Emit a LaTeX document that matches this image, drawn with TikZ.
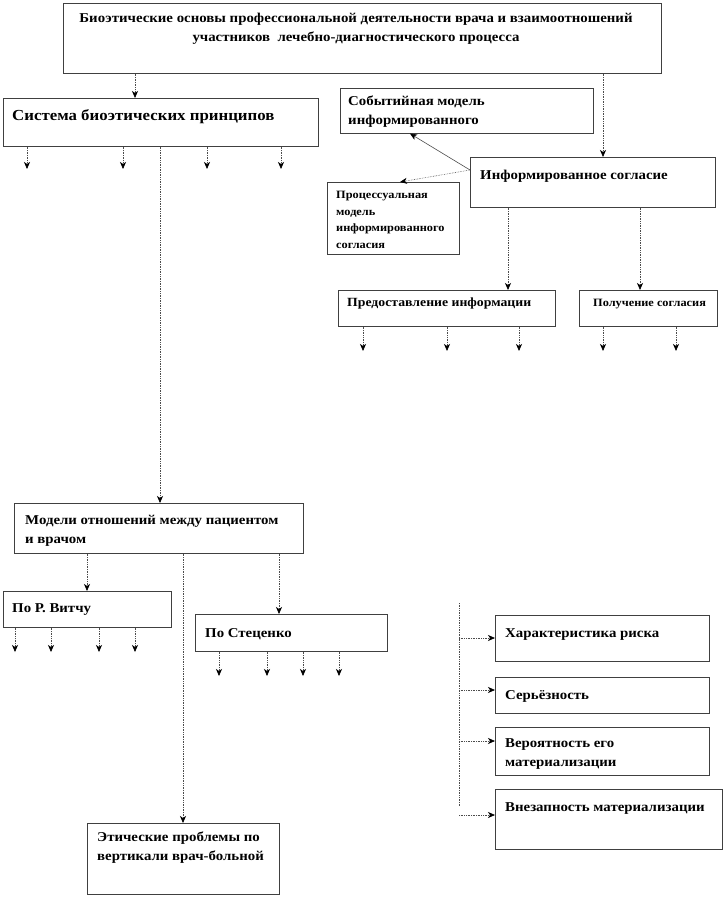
\documentclass[tikz,border=0pt]{standalone}
\usepackage{fontspec}
\setmainfont[FakeStretch=1.1]{Liberation Serif}
\usetikzlibrary{arrows.meta}
\tikzset{
  box/.style={draw=black!75, line width=0.6pt, anchor=north west, inner sep=0pt},
  txt/.style={anchor=north west, inner sep=0pt, align=left, font=\bfseries\fontsize{13.5}{19}\selectfont},
  smalltxt/.style={anchor=north west, inner sep=0pt, align=left, font=\bfseries\fontsize{11.2}{16.5}\selectfont},
  tip/.style={-{Stealth[length=7pt,width=6pt,inset=2pt,color=black]}},
  conn/.style={draw=black!70, line width=0.7pt, densely dotted, tip},
  plain/.style={draw=black!70, line width=0.7pt, densely dotted},
}
\begin{document}
\begin{tikzpicture}[x=1pt,y=-1pt]
\useasboundingbox (0,0) rectangle (726,901);
% boxes
\node[box, minimum width=598, minimum height=70] (top) at (63,3) {};
\node[box, minimum width=315, minimum height=48] (sys) at (3,98) {};
\node[box, minimum width=253, minimum height=45] (sob) at (340,88) {};
\node[box, minimum width=245, minimum height=50] (inf) at (470,157) {};
\node[box, minimum width=132, minimum height=72] (proc) at (327,182) {};
\node[box, minimum width=217, minimum height=36] (pred) at (338,290) {};
\node[box, minimum width=138, minimum height=36] (pol) at (579,290) {};
\node[box, minimum width=289, minimum height=50] (mod) at (14,503) {};
\node[box, minimum width=168, minimum height=36] (vit) at (3,591) {};
\node[box, minimum width=192, minimum height=37] (ste) at (195,614) {};
\node[box, minimum width=192, minimum height=71] (eth) at (87,823) {};
\node[box, minimum width=214, minimum height=46] (har) at (495,615) {};
\node[box, minimum width=214, minimum height=36] (ser) at (495,677) {};
\node[box, minimum width=214, minimum height=48] (ver) at (495,727) {};
\node[box, minimum width=227, minimum height=60] (vne) at (495,789) {};
% texts
\node[txt, anchor=north, align=center] (ttop) at (356,13) {Биоэтические основы профессиональной деятельности врача и взаимоотношений\\участников \ лечебно-диагностического процесса};
\node[txt, font=\bfseries\fontsize{15.3}{19}\selectfont] (tsys) at (12,109) {Система биоэтических принципов};
\node[txt] (tsob) at (348,96) {Событийная модель\\информированного};
\node[txt] (tinf) at (480,170) {Информированное согласие};
\node[smalltxt] (tproc) at (336,191) {Процессуальная\\модель\\информированного\\согласия};
\node[txt, font=\bfseries\fontsize{12.5}{19}\selectfont] (tpred) at (347,298) {Предоставление информации};
\node[smalltxt] (tpol) at (593,299) {Получение согласия};
\node[txt] (tmod) at (25,515) {Модели отношений между пациентом\\и врачом};
\node[txt] (tvit) at (12,603) {По Р. Витчу};
\node[txt] (tste) at (205,628) {По Стеценко};
\node[txt] (teth) at (97,832) {Этические проблемы по\\вертикали врач-больной};
\node[txt] (thar) at (505,628) {Характеристика риска};
\node[txt] (tser) at (505,690) {Серьёзность};
\node[txt] (tver) at (505,738) {Вероятность его\\материализации};
\node[txt] (tvne) at (505,802) {Внезапность материализации};
% free-end coordinates
\foreach \x [count=\i] in {27,123,207,281} { \coordinate (s\i) at (\x,169); }
\foreach \x [count=\i] in {363,447,519} { \coordinate (p\i) at (\x,351); }
\foreach \x [count=\i] in {603,676} { \coordinate (q\i) at (\x,351); }
\foreach \x [count=\i] in {15,51,99,135} { \coordinate (v\i) at (\x,652); }
\foreach \x [count=\i] in {219,267,303,339} { \coordinate (w\i) at (\x,676); }
\coordinate (rtop) at (459,603);
\coordinate (rbot) at (459,806);
\coordinate (rlast) at (459,815);
% connectors
\draw[conn] (top.south -| 135,0) -- (sys.north -| 135,0);
\draw[conn] (top.south -| 603,0) -- (inf.north -| 603,0);
\foreach \i/\x in {1/27,2/123,3/207,4/281} { \draw[conn] (sys.south -| \x,0) -- (s\i); }
\draw[conn] (sys.south -| 160,0) -- (mod.north -| 160,0);
\draw[draw=black!70, line width=0.6pt, tip] (inf.west |- 0,170) -- (sob.south -| 410,0);
\draw[draw=black!70, line width=0.6pt, densely dotted, tip] (inf.west |- 0,170) -- (proc.north -| 400,0);
\draw[conn] (inf.south -| 508,0) -- (pred.north -| 508,0);
\draw[conn] (inf.south -| 640,0) -- (pol.north -| 640,0);
\foreach \i/\x in {1/363,2/447,3/519} { \draw[conn] (pred.south -| \x,0) -- (p\i); }
\foreach \i/\x in {1/603,2/676} { \draw[conn] (pol.south -| \x,0) -- (q\i); }
\draw[conn] (mod.south -| 87,0) -- (vit.north -| 87,0);
\draw[conn] (mod.south -| 279,0) -- (ste.north -| 279,0);
\draw[conn] (mod.south -| 183,0) -- (eth.north -| 183,0);
\foreach \i/\x in {1/15,2/51,3/99,4/135} { \draw[conn] (vit.south -| \x,0) -- (v\i); }
\foreach \i/\x in {1/219,2/267,3/303,4/339} { \draw[conn] (ste.south -| \x,0) -- (w\i); }
\draw[plain] (rtop) -- (rbot);
\draw[conn] (rtop |- 0,638) -- (har.west |- 0,638);
\draw[conn] (rtop |- 0,690) -- (ser.west |- 0,690);
\draw[conn] (rtop |- 0,741) -- (ver.west |- 0,741);
\draw[conn] (rlast) -- (vne.west |- rlast);
\end{tikzpicture}
\end{document}
